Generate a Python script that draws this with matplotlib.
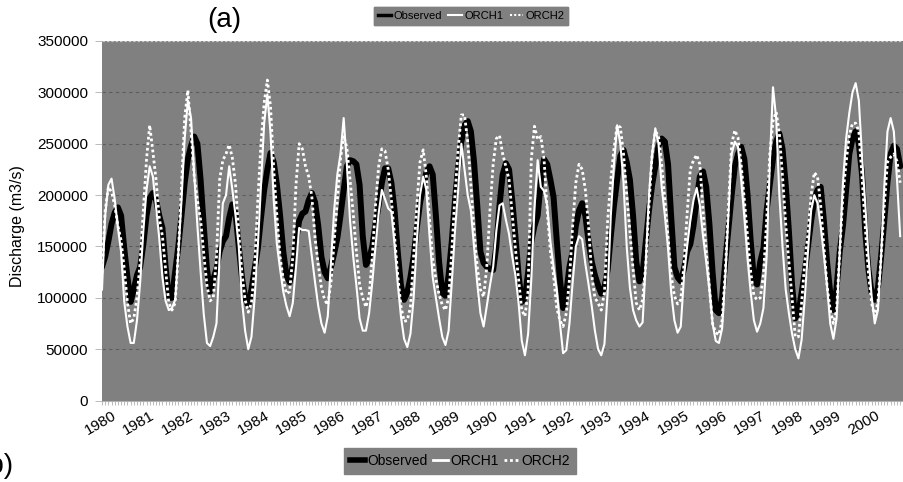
import matplotlib
matplotlib.use('Agg')
import matplotlib.pyplot as plt
import matplotlib.transforms as mtransforms
from matplotlib.lines import Line2D
import numpy as np

plt.rcParams['font.family'] = ['Liberation Sans', 'DejaVu Sans']

year_labels = [str(y) for y in range(1980, 2001)]

# Monthly discharge (m3/s), Jan 1980 .. Dec 2000
observed = [
    130e3, 140e3, 155e3, 172e3, 183e3, 188e3, 180e3, 148e3, 120e3, 96e3, 108e3, 122e3,
    130e3, 152e3, 180e3, 197e3, 202e3, 195e3, 180e3, 168e3, 130e3, 100e3, 100e3, 125e3,
    150e3, 180e3, 212e3, 235e3, 248e3, 257e3, 250e3, 215e3, 170e3, 128e3, 106e3, 118e3,
    128e3, 145e3, 155e3, 160e3, 178e3, 191e3, 182e3, 150e3, 120e3, 100e3, 92e3, 108e3,
    128e3, 148e3, 178e3, 205e3, 225e3, 241e3, 232e3, 210e3, 180e3, 145e3, 122e3, 115e3,
    132e3, 155e3, 175e3, 182e3, 184e3, 195e3, 202e3, 193e3, 170e3, 140e3, 125e3, 119e3,
    130e3, 143e3, 158e3, 180e3, 205e3, 228e3, 234e3, 233e3, 230e3, 210e3, 160e3, 132e3,
    138e3, 150e3, 172e3, 190e3, 212e3, 226e3, 226e3, 212e3, 185e3, 145e3, 112e3, 98e3,
    105e3, 120e3, 140e3, 168e3, 192e3, 208e3, 222e3, 228e3, 220e3, 180e3, 135e3, 105e3,
    102e3, 122e3, 155e3, 195e3, 228e3, 252e3, 268e3, 272e3, 262e3, 232e3, 190e3, 145e3,
    134e3, 130e3, 128e3, 127e3, 150e3, 190e3, 220e3, 231e3, 225e3, 195e3, 160e3, 122e3,
    96e3, 100e3, 125e3, 155e3, 170e3, 180e3, 213e3, 235e3, 230e3, 215e3, 198e3, 156e3,
    118e3, 90e3, 105e3, 130e3, 145e3, 170e3, 185e3, 192e3, 180e3, 155e3, 135e3, 122e3,
    112e3, 104e3, 110e3, 127e3, 160e3, 190e3, 215e3, 238e3, 244e3, 232e3, 215e3, 180e3,
    135e3, 116e3, 124e3, 155e3, 185e3, 210e3, 228e3, 248e3, 255e3, 252e3, 230e3, 178e3,
    130e3, 120e3, 116e3, 128e3, 145e3, 152e3, 170e3, 195e3, 218e3, 223e3, 208e3, 172e3,
    125e3, 88e3, 85e3, 100e3, 135e3, 168e3, 200e3, 228e3, 240e3, 247e3, 235e3, 200e3,
    155e3, 118e3, 113e3, 135e3, 148e3, 185e3, 210e3, 235e3, 252e3, 260e3, 245e3, 210e3,
    165e3, 112e3, 80e3, 85e3, 105e3, 125e3, 150e3, 175e3, 195e3, 205e3, 208e3, 175e3,
    135e3, 105e3, 88e3, 110e3, 145e3, 170e3, 205e3, 240e3, 255e3, 262e3, 250e3, 220e3,
    165e3, 128e3, 105e3, 98e3, 110e3, 140e3, 175e3, 212e3, 240e3, 248e3, 245e3, 228e3,
]

orch1 = [
    108e3, 180e3, 210e3, 216e3, 196e3, 168e3, 145e3, 96e3, 72e3, 56e3, 56e3, 78e3,
    115e3, 165e3, 205e3, 228e3, 218e3, 188e3, 158e3, 120e3, 97e3, 88e3, 90e3, 98e3,
    143e3, 195e3, 255e3, 292e3, 275e3, 220e3, 170e3, 126e3, 84e3, 56e3, 53e3, 62e3,
    75e3, 140e3, 192e3, 200e3, 228e3, 205e3, 180e3, 150e3, 98e3, 68e3, 50e3, 62e3,
    100e3, 150e3, 210e3, 270e3, 298e3, 260e3, 195e3, 152e3, 128e3, 106e3, 92e3, 82e3,
    95e3, 130e3, 168e3, 166e3, 166e3, 165e3, 140e3, 115e3, 92e3, 75e3, 66e3, 82e3,
    135e3, 185e3, 220e3, 240e3, 275e3, 230e3, 175e3, 140e3, 112e3, 80e3, 68e3, 68e3,
    85e3, 115e3, 150e3, 182e3, 205e3, 196e3, 187e3, 184e3, 152e3, 114e3, 82e3, 60e3,
    52e3, 65e3, 100e3, 155e3, 200e3, 218e3, 205e3, 160e3, 120e3, 100e3, 80e3, 62e3,
    54e3, 68e3, 115e3, 165e3, 205e3, 250e3, 225e3, 200e3, 185e3, 150e3, 114e3, 85e3,
    72e3, 92e3, 112e3, 130e3, 165e3, 190e3, 192e3, 176e3, 162e3, 140e3, 122e3, 95e3,
    58e3, 44e3, 65e3, 118e3, 188e3, 234e3, 208e3, 204e3, 190e3, 155e3, 130e3, 108e3,
    75e3, 46e3, 49e3, 75e3, 115e3, 150e3, 160e3, 157e3, 133e3, 113e3, 92e3, 68e3,
    50e3, 44e3, 55e3, 105e3, 180e3, 230e3, 268e3, 250e3, 212e3, 150e3, 110e3, 88e3,
    78e3, 72e3, 76e3, 135e3, 200e3, 240e3, 265e3, 250e3, 208e3, 180e3, 148e3, 105e3,
    78e3, 66e3, 72e3, 120e3, 150e3, 175e3, 195e3, 207e3, 190e3, 160e3, 135e3, 108e3,
    75e3, 58e3, 56e3, 70e3, 120e3, 182e3, 240e3, 252e3, 247e3, 215e3, 178e3, 138e3,
    105e3, 78e3, 67e3, 75e3, 90e3, 140e3, 230e3, 305e3, 275e3, 200e3, 150e3, 108e3,
    85e3, 65e3, 50e3, 41e3, 59e3, 100e3, 145e3, 185e3, 200e3, 192e3, 170e3, 142e3,
    112e3, 75e3, 60e3, 80e3, 145e3, 212e3, 255e3, 280e3, 300e3, 309e3, 292e3, 238e3,
    192e3, 142e3, 102e3, 75e3, 88e3, 140e3, 208e3, 262e3, 275e3, 262e3, 215e3, 160e3,
]

orch2 = [
    124e3, 185e3, 208e3, 203e3, 190e3, 170e3, 156e3, 128e3, 95e3, 75e3, 80e3, 100e3,
    135e3, 185e3, 235e3, 268e3, 242e3, 215e3, 178e3, 160e3, 128e3, 95e3, 88e3, 95e3,
    143e3, 210e3, 275e3, 302e3, 262e3, 218e3, 195e3, 176e3, 143e3, 112e3, 97e3, 100e3,
    140e3, 215e3, 234e3, 240e3, 249e3, 236e3, 210e3, 163e3, 124e3, 98e3, 86e3, 95e3,
    130e3, 195e3, 250e3, 290e3, 312e3, 286e3, 225e3, 180e3, 140e3, 118e3, 104e3, 106e3,
    140e3, 210e3, 250e3, 245e3, 228e3, 218e3, 198e3, 158e3, 132e3, 110e3, 98e3, 93e3,
    115e3, 155e3, 195e3, 235e3, 258e3, 246e3, 215e3, 182e3, 145e3, 113e3, 100e3, 91e3,
    102e3, 140e3, 190e3, 228e3, 245e3, 243e3, 225e3, 195e3, 160e3, 122e3, 92e3, 77e3,
    78e3, 91e3, 140e3, 190e3, 232e3, 244e3, 218e3, 176e3, 138e3, 118e3, 103e3, 93e3,
    88e3, 100e3, 145e3, 200e3, 245e3, 278e3, 278e3, 252e3, 210e3, 165e3, 130e3, 108e3,
    101e3, 130e3, 185e3, 230e3, 255e3, 258e3, 240e3, 228e3, 215e3, 182e3, 148e3, 118e3,
    88e3, 82e3, 107e3, 235e3, 267e3, 254e3, 257e3, 235e3, 185e3, 145e3, 122e3, 90e3,
    78e3, 72e3, 85e3, 118e3, 170e3, 212e3, 230e3, 225e3, 205e3, 170e3, 122e3, 100e3,
    95e3, 88e3, 105e3, 175e3, 215e3, 245e3, 268e3, 266e3, 240e3, 200e3, 165e3, 128e3,
    95e3, 88e3, 98e3, 132e3, 190e3, 240e3, 262e3, 258e3, 230e3, 195e3, 158e3, 122e3,
    102e3, 94e3, 98e3, 132e3, 182e3, 225e3, 234e3, 239e3, 230e3, 185e3, 145e3, 110e3,
    75e3, 66e3, 64e3, 78e3, 125e3, 190e3, 250e3, 263e3, 256e3, 230e3, 195e3, 160e3,
    125e3, 102e3, 98e3, 100e3, 122e3, 175e3, 240e3, 272e3, 281e3, 260e3, 218e3, 172e3,
    135e3, 100e3, 62e3, 62e3, 95e3, 135e3, 162e3, 200e3, 222e3, 218e3, 190e3, 150e3,
    112e3, 88e3, 75e3, 88e3, 145e3, 200e3, 232e3, 258e3, 270e3, 270e3, 262e3, 218e3,
    170e3, 125e3, 95e3, 82e3, 96e3, 140e3, 190e3, 232e3, 237e3, 240e3, 233e3, 212e3,
]

series_names = ['Observed', 'ORCH1', 'ORCH2']

W, H = 904, 482
fig = plt.figure(figsize=(W / 100, H / 100), dpi=100)
fig.patch.set_facecolor('white')

left_px, right_px, top_px, bot_px = 102, 904, 41, 400.5
ax = fig.add_axes([left_px / W, 1 - bot_px / H, (right_px - left_px) / W, (bot_px - top_px) / H])
ax.set_facecolor('#808080')

months = np.arange(len(observed))
ax.plot(months, observed, color='black', lw=4.3, solid_joinstyle='round', solid_capstyle='round', zorder=3)
ax.plot(months, orch1, color='white', lw=1.5, zorder=4)
ax.plot(months, orch2, color='white', lw=2.0, linestyle=(0, (1, 1)), zorder=5)

ax.set_ylim(0, 350000)
ax.set_xlim(0, 252.2)

yt = list(range(0, 350001, 50000))
ax.set_yticks(yt)
ax.set_yticklabels([str(v) for v in yt], fontsize=11)
for v in yt[1:-1]:
    ax.axhline(v, color='#5c5c5c', lw=0.8, linestyle=(0, (3, 3)), zorder=1)
ax.axhline(350000, color='#c8c8c8', lw=0.9, linestyle=(0, (2, 1.5)), zorder=1)

for s in ['top', 'right', 'left']:
    ax.spines[s].set_visible(False)
ax.spines['bottom'].set_color('#b0b0b0')
ax.spines['bottom'].set_linewidth(0.8)

ax.set_xticks(np.arange(0, 241, 12))
ax.set_xticklabels(year_labels, rotation=30, ha='right', va='top',
                   rotation_mode='anchor', fontsize=11)
ax.set_xticks(np.arange(0, 253, 1), minor=True)
ax.tick_params(axis='x', which='both', length=3, width=0.6, color='#b0b0b0', pad=3)
ax.tick_params(axis='y', length=5, width=0.6, color='#b0b0b0', pad=5)
shift = mtransforms.ScaledTranslation(10 / 100, 0, fig.dpi_scale_trans)
for lab in ax.get_xticklabels():
    lab.set_transform(lab.get_transform() + shift)

fig.text(18 / W, 1 - 226 / H, 'Discharge (m3/s)', rotation=90, ha='center', va='center', fontsize=11.5)
fig.text(224 / W, 1 - 20 / H, '(a)', ha='center', va='center', fontsize=20)
fig.text(13 / W, 1 - 466 / H, '(b)', ha='right', va='center', fontsize=20)

def handles(lw_obs, lw_w):
    return [
        Line2D([], [], color='black', lw=lw_obs),
        Line2D([], [], color='white', lw=lw_w),
        Line2D([], [], color='white', lw=lw_w, linestyle=(0, (1, 1))),
    ]

leg_top = fig.legend(handles(2.5, 1.5), series_names, loc='center',
                     bbox_to_anchor=(471 / W, 1 - 16 / H), ncol=3, fontsize=8,
                     frameon=True, facecolor='#808080', edgecolor='#808080', framealpha=1,
                     fancybox=False, handlelength=1.2, handletextpad=0.2,
                     columnspacing=0.6, borderpad=0.35)
fig.add_artist(leg_top)
leg_bot = fig.legend(handles(4, 2), series_names, loc='center',
                     bbox_to_anchor=(460 / W, 1 - 461 / H), ncol=3, fontsize=10,
                     frameon=True, facecolor='#808080', edgecolor='#808080', framealpha=1,
                     fancybox=False, handlelength=1.1, handletextpad=0.15,
                     columnspacing=0.4, borderpad=0.45)

fig.savefig('out.png', dpi=100)
